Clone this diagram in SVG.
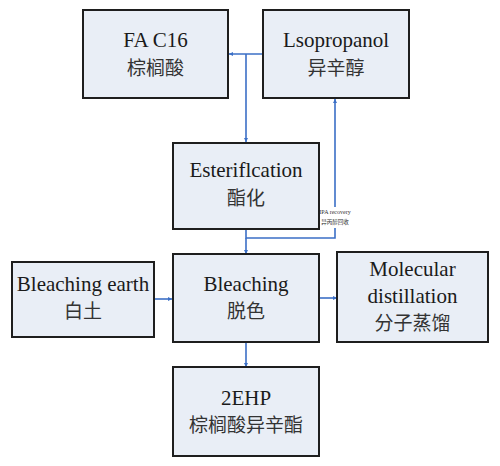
<svg xmlns="http://www.w3.org/2000/svg" width="500" height="466" viewBox="0 0 500 466">
<style>
.box{fill:#e9eef6;stroke:#1e1e1e;stroke-width:2}
.en{font-family:"Liberation Serif","Times New Roman",serif;font-size:21px;fill:#1a1a1a;text-anchor:middle}
.zh{font-family:"Noto Sans CJK SC","Noto Sans CJK JP",sans-serif;font-size:19px;fill:#333;text-anchor:middle}
.ln{fill:none;stroke:#3b6fc6;stroke-width:1.6}
.sm{font-family:"Liberation Serif","Times New Roman",serif;font-size:6px;fill:#333;text-anchor:middle}
.smz{font-family:"Noto Sans CJK SC",sans-serif;font-size:5.5px;fill:#333;text-anchor:middle}
</style>
<defs>
<marker id="ar" viewBox="0 0 6 6" refX="6" refY="3" markerWidth="4" markerHeight="4" orient="auto" markerUnits="userSpaceOnUse">
<path d="M0,0 L6,3 L0,6 z" fill="#3b6fc6"/>
</marker>
</defs>
<g id="connectors">
<path class="ln" d="M263,54 H229" marker-end="url(#ar)"/>
<path class="ln" d="M246,54 V142" marker-end="url(#ar)"/>
<path class="ln" d="M246,229 V238 H335 V99" marker-end="url(#ar)"/>
<path class="ln" d="M246,238 V254" marker-end="url(#ar)"/>
<path class="ln" d="M154,299 H172" marker-end="url(#ar)"/>
<path class="ln" d="M319,298 H337" marker-end="url(#ar)"/>
<path class="ln" d="M246,342 V367" marker-end="url(#ar)"/>
<rect x="321" y="207" width="33" height="21" fill="#ffffff"/>
<text class="sm" x="335" y="214">IPA recovery</text>
<text class="smz" x="335" y="224">异丙醇回收</text>
</g>
<g id="fa">
<rect class="box" x="83" y="10" width="145" height="88"/>
<text class="en" x="155.5" y="47">FA C16</text>
<text class="zh" x="155.5" y="75">棕榈酸</text>
</g>
<g id="ipa">
<rect class="box" x="263" y="10" width="146" height="88"/>
<text class="en" x="336" y="47">Lsopropanol</text>
<text class="zh" x="336" y="75">异辛醇</text>
</g>
<g id="ester">
<rect class="box" x="173" y="143" width="146" height="86"/>
<text class="en" x="246" y="177">Esteriflcation</text>
<text class="zh" x="246" y="205">酯化</text>
</g>
<g id="earth">
<rect class="box" x="12" y="262" width="142" height="75"/>
<text class="en" x="83" y="291">Bleaching earth</text>
<text class="zh" x="83" y="318">白土</text>
</g>
<g id="bleach">
<rect class="box" x="173" y="254" width="146" height="88"/>
<text class="en" x="246" y="291">Bleaching</text>
<text class="zh" x="246" y="318">脱色</text>
</g>
<g id="mol">
<rect class="box" x="337" y="252" width="151" height="90"/>
<text class="en" x="412.5" y="276">Molecular</text>
<text class="en" x="412.5" y="303">distillation</text>
<text class="zh" x="412.5" y="330">分子蒸馏</text>
</g>
<g id="ehp">
<rect class="box" x="173" y="367" width="146" height="89"/>
<text class="en" x="246" y="405">2EHP</text>
<text class="zh" x="246" y="432">棕榈酸异辛酯</text>
</g>
</svg>
